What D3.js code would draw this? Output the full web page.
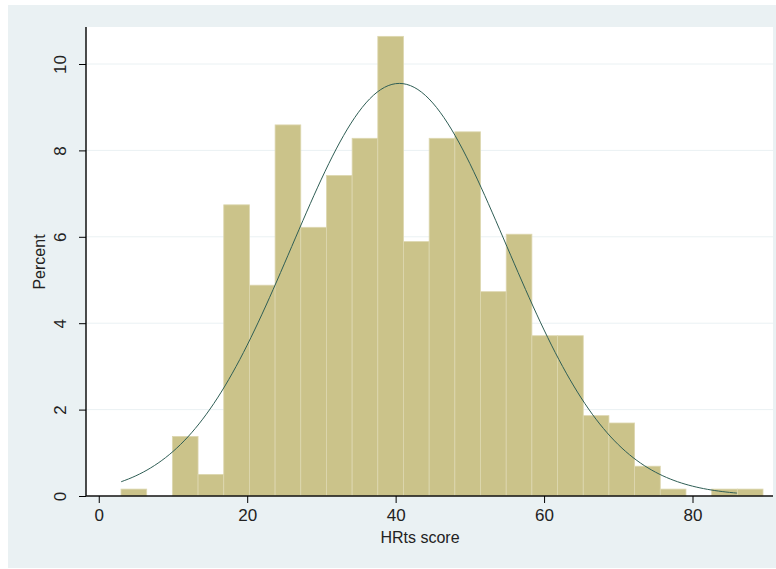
<!DOCTYPE html>
<html>
<head>
<meta charset="utf-8">
<script src="https://cdn.jsdelivr.net/npm/d3@7"></script>
<style>
  body { margin: 0; background: #fff; }
  text { font-family: "Liberation Sans", Arial, sans-serif; fill: #222; }
</style>
</head>
<body>
<svg id="chart" width="776" height="569"></svg>
<script>
// histogram of HRts score, 25 bins starting at 3
const binStart = 3;
const binWidth = 3.46;
const percents = [0.16, 0, 1.38, 0.5, 6.74, 4.88, 8.59, 6.22, 7.42, 8.28, 10.64, 5.89, 8.28,
                  8.43, 4.73, 6.06, 3.71, 3.71, 1.86, 1.69, 0.69, 0.16, 0, 0.16, 0.16];
const xTicks = [0, 20, 40, 60, 80];
const yTicks = [0, 2, 4, 6, 8, 10];
// fitted normal overlay
const fitMean = 40.5;
const fitSd = 14.45;
const curveRange = [3, 86];

const svg = d3.select('#chart');

svg.append('rect').attr('x', 8).attr('y', 5).attr('width', 768).attr('height', 563).attr('fill', '#eaf1f3');
svg.append('rect').attr('x', 86).attr('y', 27).attr('width', 687).attr('height', 469).attr('fill', '#fff');

const x = d3.scaleLinear().domain([0, 80]).range([98.75, 692.5]);
const y = d3.scaleLinear().domain([0, 10]).range([496, 64]);

// gridlines
svg.append('g').selectAll('line').data(yTicks.slice(1)).join('line')
    .attr('x1', 86).attr('x2', 773)
    .attr('y1', d => y(d)).attr('y2', d => y(d))
    .attr('stroke', '#eaf1f3').attr('stroke-width', 1);

// bars
const bins = percents.map((p, i) => ({ p, x0: binStart + binWidth * i, x1: binStart + binWidth * (i + 1) }))
    .filter(d => d.p > 0);
svg.append('g').selectAll('rect').data(bins).join('rect')
    .attr('x', d => x(d.x0)).attr('width', d => x(d.x1) - x(d.x0))
    .attr('y', d => y(d.p)).attr('height', d => y(0) - y(d.p))
    .attr('fill', '#cbc38a')
    .attr('stroke', '#ddd7b0').attr('stroke-width', 0.8);

// normal curve
const pts = d3.range(curveRange[0], curveRange[1] + 0.01, 0.5).map(v => {
    const z = (v - fitMean) / fitSd;
    return [v, binWidth * 100 * Math.exp(-0.5 * z * z) / (fitSd * Math.sqrt(2 * Math.PI))];
});
svg.append('path')
    .attr('d', d3.line().x(d => x(d[0])).y(d => y(d[1])).curve(d3.curveBasis)(pts))
    .attr('fill', 'none').attr('stroke', '#2f5e55').attr('stroke-width', 1);

// axes
const xAxis = svg.append('g').attr('transform', 'translate(0,496)')
    .call(d3.axisBottom(x).tickValues(xTicks).tickSize(7).tickPadding(6));
xAxis.select('.domain').attr('d', 'M86,0H773');
const yAxis = svg.append('g').attr('transform', 'translate(86,0)')
    .call(d3.axisLeft(y).tickValues(yTicks).tickSize(7));
yAxis.select('.domain').attr('d', 'M0,27V496');
svg.selectAll('.domain').attr('stroke', '#111').attr('stroke-width', 1.5);
xAxis.selectAll('.tick text').attr('font-size', 17).attr('font-family', 'Liberation Sans Narrow, Liberation Sans, sans-serif');
yAxis.selectAll('.tick text')
    .attr('font-size', 17).attr('font-family', 'Liberation Sans Narrow, Liberation Sans, sans-serif')
    .attr('text-anchor', 'middle')
    .attr('x', -26).attr('y', 0).attr('dy', '0.35em')
    .attr('transform', 'rotate(-90,-26,0)');

svg.append('text').attr('x', 420).attr('y', 543).attr('text-anchor', 'middle')
    .attr('font-size', 16).text('HRts score');
svg.append('text').attr('transform', 'translate(45,262) rotate(-90)').attr('text-anchor', 'middle')
    .attr('font-size', 16).text('Percent');
</script>
</body>
</html>
